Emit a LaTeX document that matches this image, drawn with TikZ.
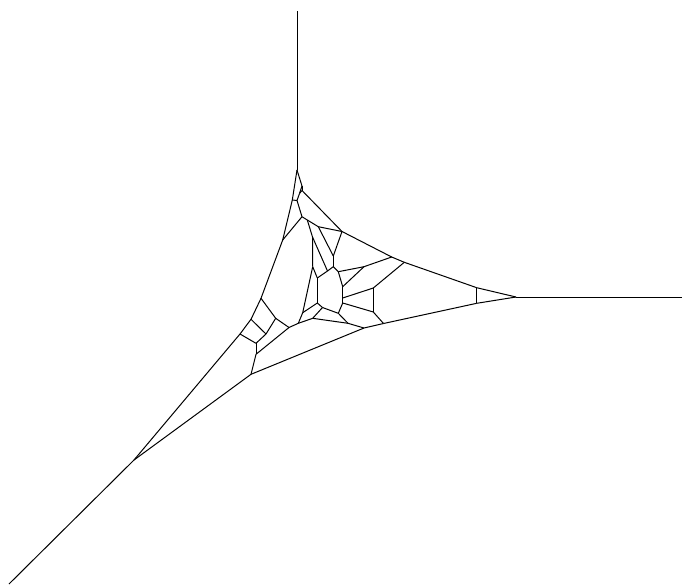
\documentclass[tikz,border=0pt]{standalone}
\tikzset{
    % Edges
    edge/.style={
        draw=black,
        line width=1pt,
        line join=round
    }
}
\begin{document}
\begin{tikzpicture}[x=1pt,y=-1pt]
    \useasboundingbox (0,0) rectangle (682,584);

    % Rays and their ends
    \coordinate (topend) at (297,11);
    \coordinate (rightend) at (682,297);
    \coordinate (leftend) at (9,584);
    \coordinate (top) at (297,170);
    \coordinate (right) at (516,297);
    \coordinate (left) at (134,460);

    % Upper corner
    \coordinate (a1) at (292.3,200);
    \coordinate (a2) at (297,200.5);
    \coordinate (a3) at (299.5,193.5);
    \coordinate (a4) at (302,186);
    \coordinate (a5) at (302,190.5);
    \coordinate (a6) at (302,216.7);
    \coordinate (a7) at (282.7,240);

    % Upper arc
    \coordinate (b1) at (307.3,220);
    \coordinate (b2) at (318.3,226.7);
    \coordinate (b3) at (342,231.5);
    \coordinate (b4) at (391.7,257);
    \coordinate (b5) at (404.3,262.3);
    \coordinate (b6) at (476.7,287.7);
    \coordinate (b7) at (476.7,303.3);

    % Inner ring
    \coordinate (c1) at (312.5,237);
    \coordinate (c2) at (312.7,266.7);
    \coordinate (c3) at (317.3,278);
    \coordinate (c4) at (327.5,271);
    \coordinate (c5) at (333.3,256);
    \coordinate (c6) at (333.3,266.7);
    \coordinate (c7) at (338.3,271.7);
    \coordinate (c8) at (342.7,286.7);
    \coordinate (c9) at (342.7,298);
    \coordinate (c10) at (342.7,303);
    \coordinate (c11) at (338.3,313.3);
    \coordinate (c12) at (322.5,307.5);
    \coordinate (c13) at (317.3,303);

    % Right of the ring
    \coordinate (d1) at (364,266.7);
    \coordinate (d2) at (373.3,288);
    \coordinate (d3) at (373.3,312);
    \coordinate (d4) at (383.5,323.5);
    \coordinate (d5) at (364,328);
    \coordinate (d6) at (348,323.3);

    % Below the ring
    \coordinate (e1) at (312.7,318.3);
    \coordinate (e2) at (302.7,312.7);
    \coordinate (e3) at (298.3,323.3);
    \coordinate (e4) at (289,327.5);

    % Lower corner
    \coordinate (f1) at (261,298.3);
    \coordinate (f2) at (251,319.3);
    \coordinate (f3) at (240,334);
    \coordinate (f4) at (256,343.3);
    \coordinate (f5) at (266,334);
    \coordinate (f6) at (275.7,318.3);
    \coordinate (f7) at (256,354.3);
    \coordinate (f8) at (251,374.3);

    % Rays
    \draw[edge] (topend) -- (top);
    \draw[edge] (rightend) -- (right);
    \draw[edge] (leftend) -- (left);

    % Outer boundary
    \draw[edge] (top) -- (a1);
    \draw[edge] (a1) -- (a7);
    \draw[edge] (a7) -- (f1);
    \draw[edge] (f1) -- (f2);
    \draw[edge] (f2) -- (f3);
    \draw[edge] (f3) -- (left);
    \draw[edge] (left) -- (f8);
    \draw[edge] (f8) -- (d5);
    \draw[edge] (d5) -- (d4);
    \draw[edge] (d4) -- (b7);
    \draw[edge] (b7) -- (right);
    \draw[edge] (right) -- (b6);
    \draw[edge] (b6) -- (b5);
    \draw[edge] (b5) -- (b4);
    \draw[edge] (b4) -- (b3);
    \draw[edge] (b3) -- (a5);
    \draw[edge] (a5) -- (a4);
    \draw[edge] (a4) -- (top);

    % Upper corner
    \draw[edge] (a1) -- (a2);
    \draw[edge] (a2) -- (a3);
    \draw[edge] (a3) -- (a4);
    \draw[edge] (a3) -- (a5);
    \draw[edge] (a2) -- (a6);
    \draw[edge] (a6) -- (a7);
    \draw[edge] (a6) -- (b1);
    \draw[edge] (b1) -- (b2);
    \draw[edge] (b2) -- (b3);
    \draw[edge] (b6) -- (b7);

    % Inner ring
    \draw[edge] (b1) -- (c1);
    \draw[edge] (c1) -- (c2);
    \draw[edge] (c1) -- (c4);
    \draw[edge] (b2) -- (c5);
    \draw[edge] (b3) -- (c5);
    \draw[edge] (c5) -- (c6);
    \draw[edge] (c6) -- (c4);
    \draw[edge] (c4) -- (c3);
    \draw[edge] (c3) -- (c2);
    \draw[edge] (c6) -- (c7);
    \draw[edge] (c7) -- (c8);
    \draw[edge] (c8) -- (c9);
    \draw[edge] (c9) -- (c10);
    \draw[edge] (c10) -- (c11);
    \draw[edge] (c11) -- (c12);
    \draw[edge] (c12) -- (c13);
    \draw[edge] (c13) -- (c3);

    % Right of the ring
    \draw[edge] (c7) -- (d1);
    \draw[edge] (c8) -- (d1);
    \draw[edge] (d1) -- (b4);
    \draw[edge] (c9) -- (d2);
    \draw[edge] (d2) -- (b5);
    \draw[edge] (c10) -- (d3);
    \draw[edge] (d2) -- (d3);
    \draw[edge] (d3) -- (d4);
    \draw[edge] (c11) -- (d6);
    \draw[edge] (d6) -- (d5);

    % Below the ring
    \draw[edge] (c2) -- (e2);
    \draw[edge] (c13) -- (e2);
    \draw[edge] (c12) -- (e1);
    \draw[edge] (e1) -- (d6);
    \draw[edge] (e1) -- (e3);
    \draw[edge] (e2) -- (e3);
    \draw[edge] (e3) -- (e4);

    % Lower corner
    \draw[edge] (f1) -- (f6);
    \draw[edge] (f6) -- (e4);
    \draw[edge] (f6) -- (f5);
    \draw[edge] (f2) -- (f5);
    \draw[edge] (f5) -- (f4);
    \draw[edge] (f3) -- (f4);
    \draw[edge] (f4) -- (f7);
    \draw[edge] (f7) -- (e4);
    \draw[edge] (f7) -- (f8);
\end{tikzpicture}
\end{document}
